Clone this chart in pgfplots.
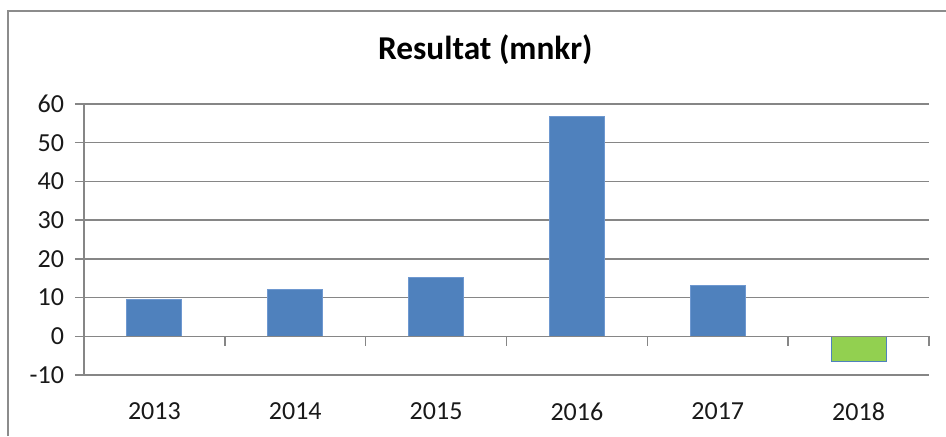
\documentclass[border=0pt]{standalone}
\usepackage{fontspec}
\setmainfont{Carlito}
\usepackage{pgfplots}
\pgfplotsset{compat=1.18}
\definecolor{barblue}{RGB}{79 129 189}
\definecolor{baredge}{RGB}{110 152 208}
\definecolor{bargreen}{RGB}{146 208 80}
\definecolor{axisgray}{RGB}{134 134 134}
\definecolor{framegray}{RGB}{140 140 140}

\begin{document}
\begin{tikzpicture}
\useasboundingbox (0,0) rectangle (709.5pt,327pt);
% chart frame (left and top edges only visible)
\draw[framegray, line width=1.5pt] (6pt,0) -- (6pt,318.75pt) -- (709.5pt,318.75pt);
\node[anchor=base, font=\fontsize{25}{28}\selectfont\bfseries, inner sep=0pt] at (364pt,282pt) {Resultat (mnkr)};
\begin{axis}[
    at={(63pt,45.75pt)}, anchor=south west,
    scale only axis,
    width=633.75pt, height=203.25pt,
    xmin=-0.5, xmax=5.5,
    ymin=-10, ymax=60,
    ytick={-10,0,...,60},
    xtick={0,...,5},
    xticklabels={2013,2014,2015,2016,2017,2018},
    ymajorgrids,
    grid style={axisgray, line width=1.1pt},
    axis line style={draw=none},
    tick align=outside,
    ytick pos=left,
    major tick length=6.75pt,
    ytick style={axisgray, line width=1.1pt},
    xtick style={draw=none},
    /pgf/number format/assume math mode=true,
    tick label style={font=\fontsize{19.5}{22}\selectfont, text=black!90},
    yticklabel style={anchor=east, inner sep=0pt, xshift=-8pt},
    xticklabel style={anchor=north, inner sep=0pt, yshift=-14pt},
    ybar, bar width=41.25pt,
    clip=false,
]
\addplot[fill=barblue, draw=baredge, line width=0.75pt, bar shift=0pt]
  coordinates {(0,9.5) (1,12.1) (2,15.2) (3,56.8) (4,13.2)};
\addplot[fill=bargreen, draw=barblue, line width=0.75pt, bar shift=0pt]
  coordinates {(5,-6.5)};
\draw[axisgray, line width=1.1pt] (axis cs:-0.5,-10) -- (axis cs:-0.5,60);
\draw[axisgray, line width=1.1pt] (axis cs:-0.5,0) -- (axis cs:5.5,0);
\pgfplotsinvokeforeach{0.5,1.5,2.5,3.5,4.5,5.5}{
  \draw[axisgray, line width=1.1pt] (axis cs:#1,0) -- ([yshift=-7pt]axis cs:#1,0);
}
\end{axis}
\end{tikzpicture}
\end{document}
